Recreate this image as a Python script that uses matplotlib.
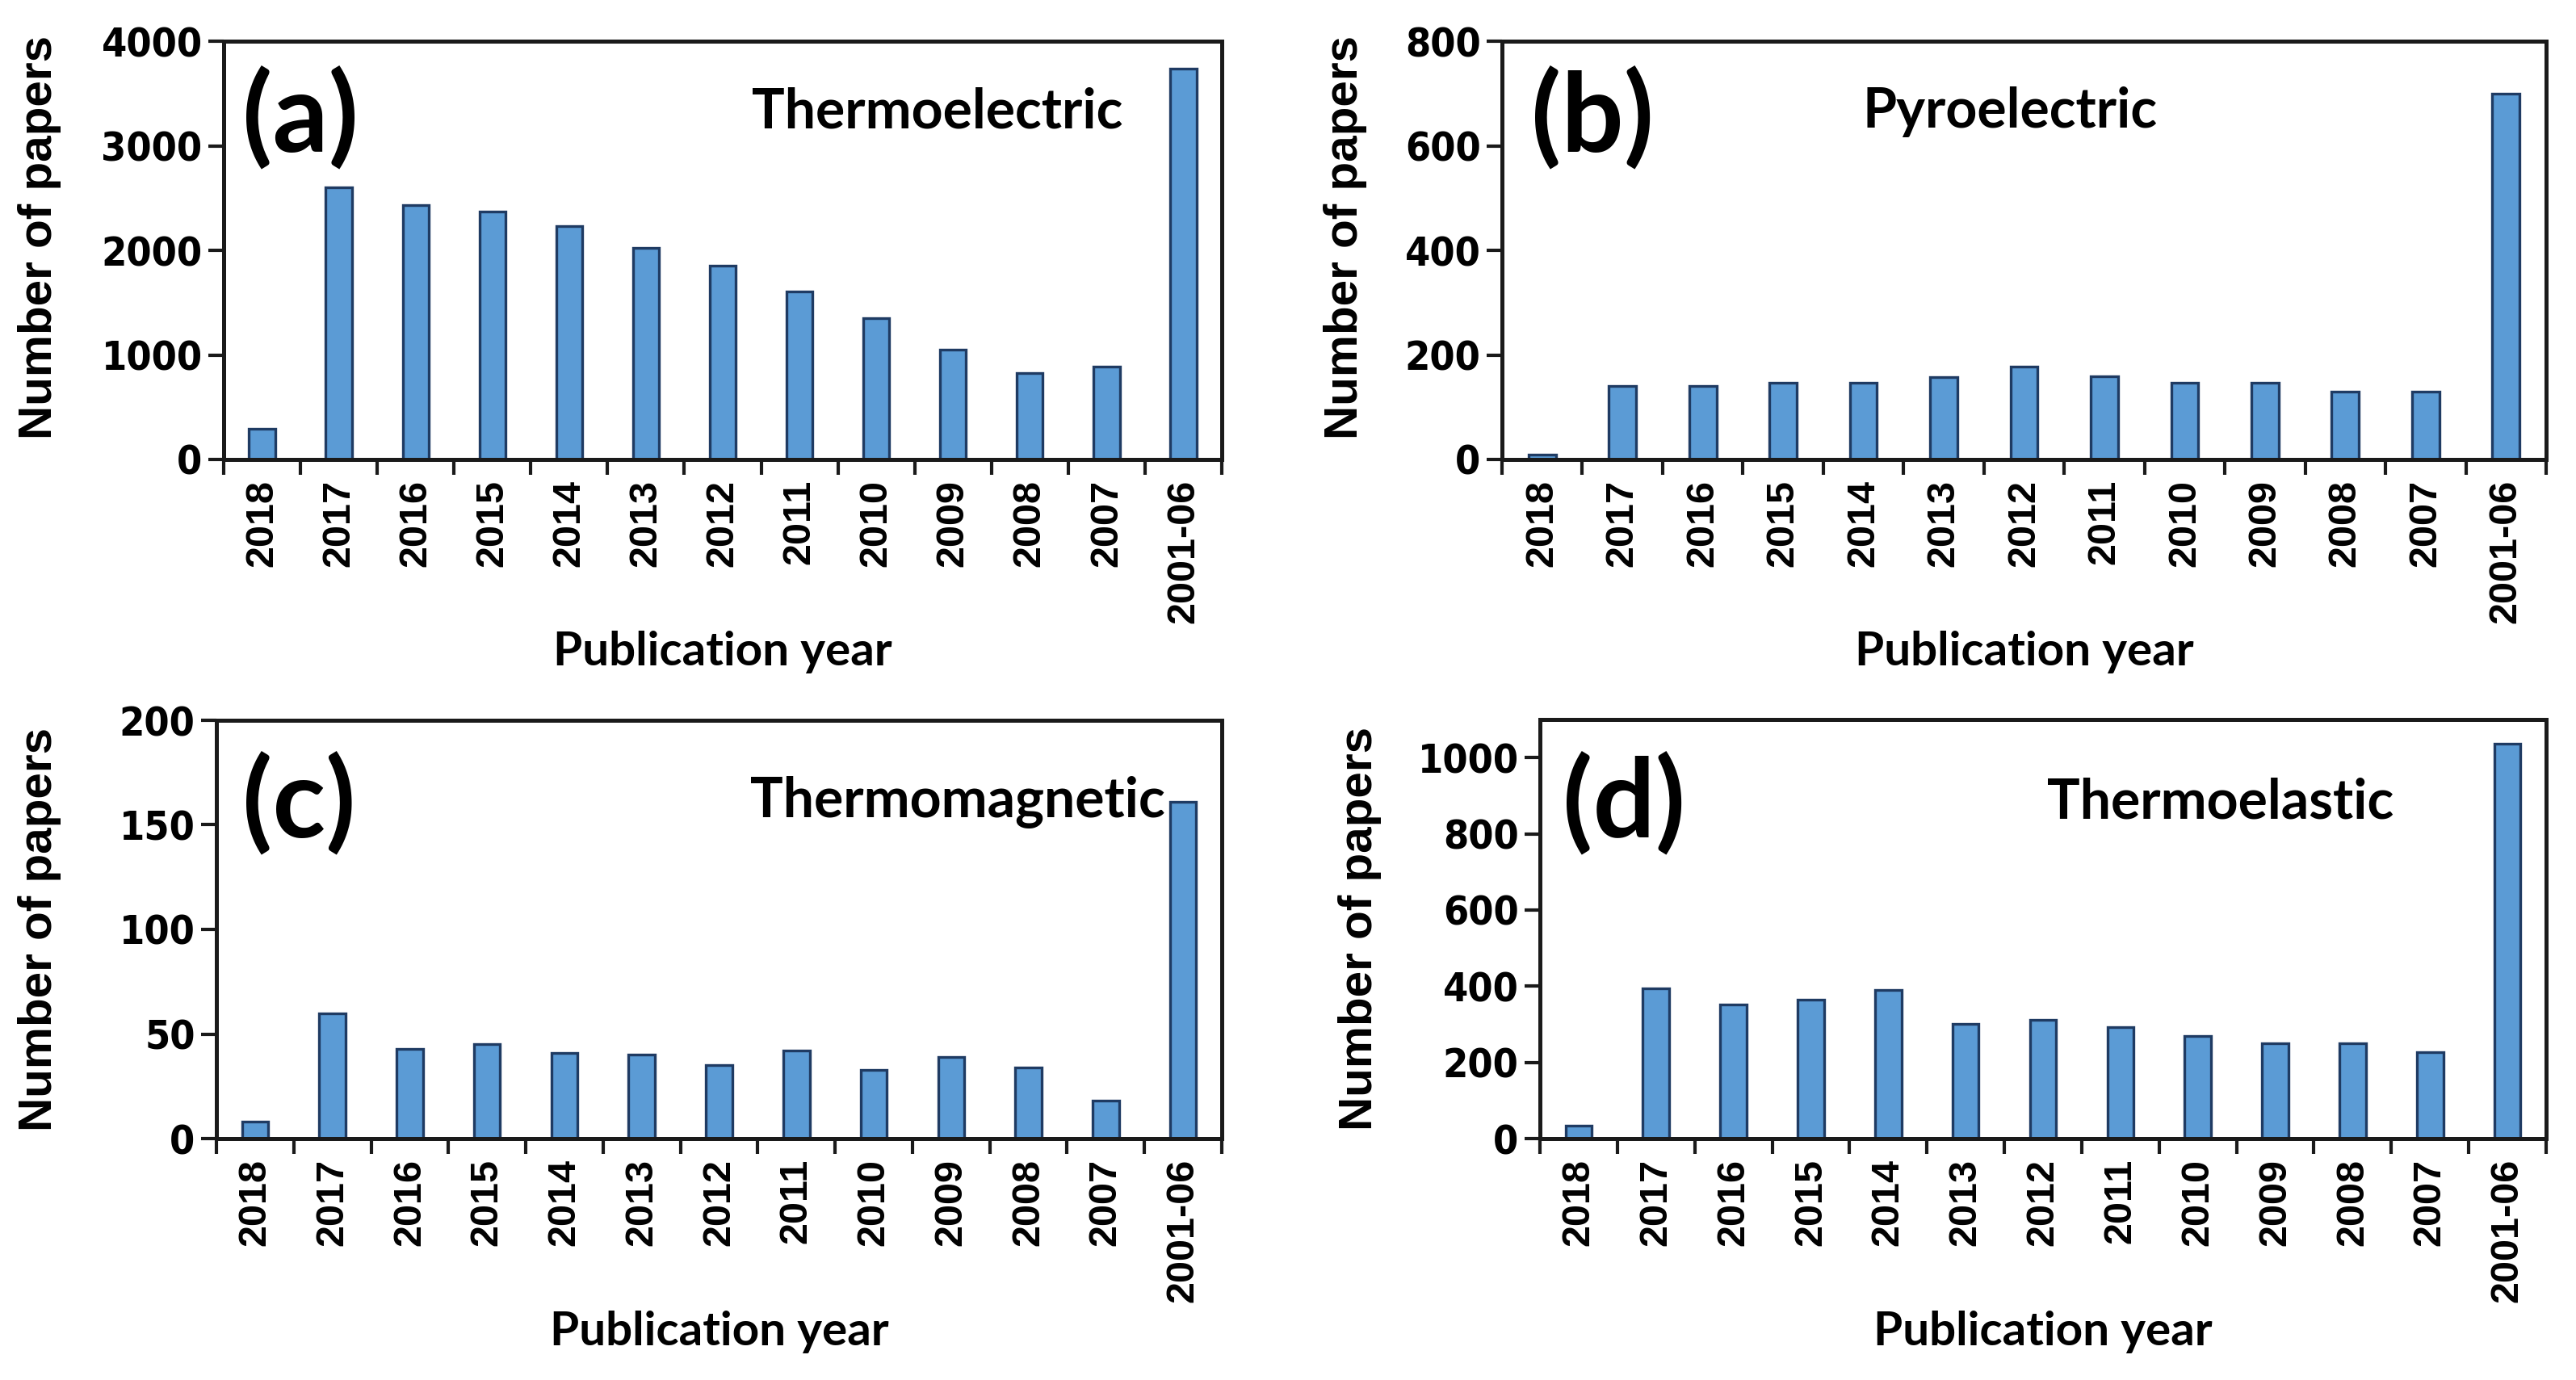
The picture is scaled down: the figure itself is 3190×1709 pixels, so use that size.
import numpy as np
import matplotlib
matplotlib.use('Agg')
import matplotlib.pyplot as plt
from matplotlib import font_manager as fm

years = ['2018', '2017', '2016', '2015', '2014', '2013', '2012', '2011',
         '2010', '2009', '2008', '2007', '2001-06']

thermoelectric = [290, 2600, 2430, 2370, 2230, 2020, 1850, 1610, 1350, 1050, 830, 890, 3740]
pyroelectric = [10, 140, 140, 146, 146, 158, 178, 159, 146, 146, 130, 130, 700]
thermomagnetic = [8, 60, 43, 45, 41, 40, 35, 42, 33, 39, 34, 18, 161]
thermoelastic = [34, 395, 352, 365, 390, 302, 312, 293, 270, 250, 250, 227, 1037]

names = {f.name for f in fm.fontManager.ttflist}
label_font = 'Lato' if 'Lato' in names else 'DejaVu Sans'

# look for a narrow bold face for the y tick numbers (Calibri-like in the original)
tick_prop = fm.FontProperties(family='Liberation Sans', weight='bold', size=31)
for f in fm.fontManager.ttflist:
    if ('Narrow' in f.name or 'Condensed' in f.name or f.stretch == 'condensed') and f.weight in (700, 'bold'):
        tick_prop = fm.FontProperties(fname=f.fname, size=36)
        break

W, H = 3190, 1709
fig = plt.figure(figsize=(W / 100, H / 100), dpi=100)

def box(l, r, t, b):
    return [l / W, 1 - b / H, (r - l) / W, (b - t) / H]

panels = [
    # data, ylim, step, axes box, letter, letter pos, name, name pos, ylabel x, ylabel y
    (thermoelectric, 4000, 1000, box(277, 1513, 51, 569), '(a)', (300, 147), 'Thermoelectric', (931, 139), 49, 0.53),
    (pyroelectric, 800, 200, box(1860, 3153, 51, 569), '(b)', (1896, 147), 'Pyroelectric', (2306, 139), 1666, 0.53),
    (thermomagnetic, 200, 50, box(268, 1513, 892, 1410), '(c)', (300, 996), 'Thermomagnetic', (929, 994), 49, 0.5),
    (thermoelastic, 1100, 200, box(1907, 3153, 891, 1410), '(d)', (1935, 996), 'Thermoelastic', (2535, 994), 1684, 0.5),
]

bar_color = '#5B9BD5'
edge_color = '#1F3B63'
spine_color = '#1a1a1a'

x = np.arange(len(years))
for vals, ymax, step, pos, letter, lpos, name, npos, ylx, yly in panels:
    ax = fig.add_axes(pos)
    ax.bar(x, vals, width=0.34, color=bar_color, edgecolor=edge_color, linewidth=2.4)
    ax.set_xlim(-0.5, len(years) - 0.5)
    ax.set_ylim(0, ymax)
    ticks = np.arange(0, ymax + 1, step)
    ax.set_yticks(ticks)
    ax.set_yticklabels([str(v) for v in ticks], fontproperties=tick_prop)
    ax.set_xticks(x)
    ax.set_xticklabels(years, rotation=90, fontfamily='Liberation Sans',
                       fontweight='bold', fontsize=35)
    ax.set_xticks(np.arange(-0.5, len(years), 1), minor=True)
    ax.tick_params(axis='x', which='major', length=0, pad=18)
    ax.tick_params(axis='x', which='minor', length=14, width=3, direction='out', color=spine_color)
    ax.tick_params(axis='y', length=14, width=3, direction='out', pad=5, color=spine_color)
    for s in ax.spines.values():
        s.set_linewidth(3.6)
        s.set_color(spine_color)

    ax.set_ylabel('Number of papers', fontfamily='Liberation Sans', fontweight='bold', fontsize=42)
    ax.yaxis.label.set_va('center')
    ax.yaxis.set_label_coords((ylx - pos[0] * W) / (pos[2] * W), yly)
    ax.set_xlabel('Publication year', fontfamily=label_font, fontweight='bold', fontsize=42)
    ax.xaxis.label.set_va('center')
    ax.xaxis.set_label_coords(0.5, -(808 - 569) / (pos[3] * H))

    fig.text(lpos[0] / W, 1 - lpos[1] / H, letter, fontfamily=label_font,
             fontweight='bold', fontsize=98, ha='left', va='center')
    fig.text(npos[0] / W, 1 - npos[1] / H, name, fontfamily=label_font,
             fontweight='bold', fontsize=49, ha='left', va='center')

fig.savefig('out.png', dpi=100)
